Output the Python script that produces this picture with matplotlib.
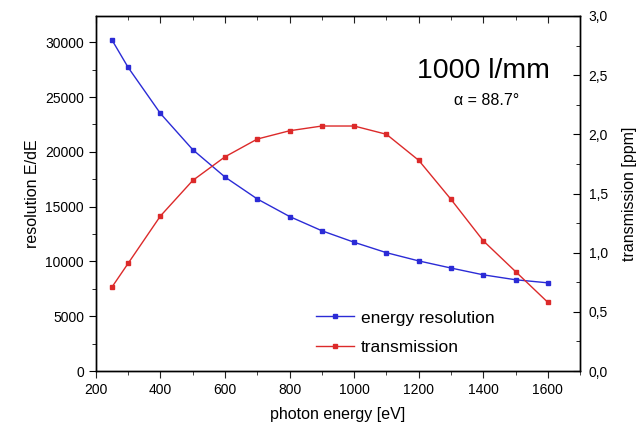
import matplotlib
matplotlib.use("Agg")
import matplotlib.pyplot as plt
from matplotlib.ticker import MultipleLocator, FuncFormatter

plt.rcParams['font.family'] = ['Liberation Sans', 'DejaVu Sans']

# photon energy [eV]
energy = [250, 300, 400, 500, 600, 700, 800, 900, 1000, 1100, 1200, 1300, 1400, 1500, 1600]
# resolution E/dE
resolution = [30200, 27700, 23500, 20200, 17700, 15700, 14100, 12800, 11750, 10800,
              10050, 9400, 8780, 8330, 8050]
# transmission [ppm]
transmission = [0.71, 0.91, 1.31, 1.61, 1.81, 1.96, 2.03, 2.07, 2.07, 2.00,
                1.78, 1.45, 1.10, 0.84, 0.58]

blue = '#2b2bd6'
red = '#dc2a2a'

fig = plt.figure(figsize=(6.39, 4.30), dpi=100)
ax = fig.add_axes([0.150, 0.137, 0.758, 0.826])
ax2 = ax.twinx()

l1, = ax.plot(energy, resolution, '-s', color=blue, lw=1.0, ms=3.5,
              label='energy resolution')
l2, = ax2.plot(energy, transmission, '-s', color=red, lw=1.0, ms=3.5,
               label='transmission')

ax.set_xlim(200, 1700)
ax.set_ylim(0, 32400)
ax2.set_ylim(0, 3.0)

ax.xaxis.set_major_locator(MultipleLocator(200))
ax.xaxis.set_minor_locator(MultipleLocator(100))
ax.yaxis.set_major_locator(MultipleLocator(5000))
ax.yaxis.set_minor_locator(MultipleLocator(2500))
ax2.yaxis.set_major_locator(MultipleLocator(0.5))
ax2.yaxis.set_minor_locator(MultipleLocator(0.25))
ax2.yaxis.set_major_formatter(FuncFormatter(lambda v, p: f'{v:.1f}'.replace('.', ',')))

ax.tick_params(axis='x', which='both', direction='out', top=True, labelsize=10, color='#222222')
ax.tick_params(axis='x', which='major', length=5)
ax.tick_params(axis='x', which='minor', length=3)
ax.tick_params(axis='y', which='major', direction='out', length=5, labelsize=10)
ax.tick_params(axis='y', which='minor', direction='out', length=3)
ax2.tick_params(axis='y', which='major', direction='in', length=5, labelsize=10, pad=6)
ax2.tick_params(axis='y', which='minor', direction='in', length=3)
# top ticks point inward
for t in ax.xaxis.get_major_ticks() + ax.xaxis.get_minor_ticks():
    t.tick2line.set_marker(matplotlib.lines.TICKDOWN)

for s in ax.spines.values():
    s.set_linewidth(1.0)
for s in ax2.spines.values():
    s.set_linewidth(1.0)

ax.set_xlabel('photon energy [eV]', fontsize=11.5, labelpad=7)
ax.set_ylabel('resolution E/dE', fontsize=11.5, labelpad=4)
ax2.set_ylabel('transmission [ppm]', fontsize=11.5, labelpad=10)

ax.text(1400, 27400, '1000 l/mm', fontsize=20.5, ha='center', va='center')
ax.text(1410, 24700, '\u03b1 = 88.7\u00b0', fontsize=11.5, ha='center', va='center')

ax2.legend(handles=[l1, l2], loc='lower right', bbox_to_anchor=(0.855, 0.0),
           frameon=False, fontsize=12.5, handlelength=2.2, handletextpad=0.4,
           labelspacing=0.85, markerscale=0.8)

fig.savefig('out.png', dpi=100)
